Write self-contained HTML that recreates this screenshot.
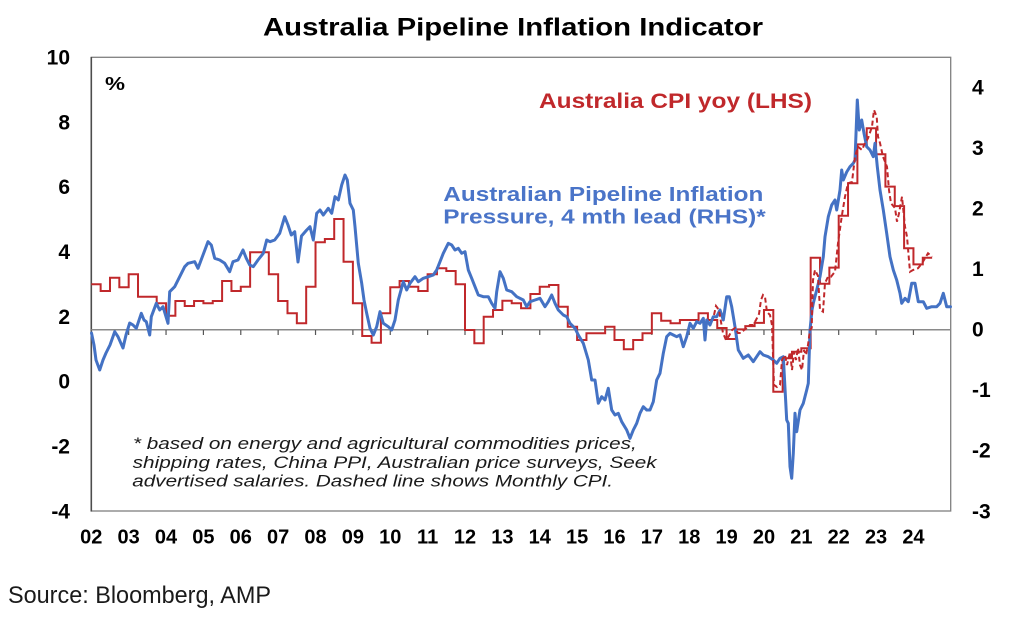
<!DOCTYPE html>
<html>
<head>
<meta charset="utf-8">
<style>
  html, body { margin: 0; padding: 0; background: #ffffff; }
  svg { display: block; }
  text { font-family: "Liberation Sans", Arial, sans-serif; }
</style>
</head>
<body>
<svg width="1018" height="624" viewBox="0 0 1018 624" xmlns="http://www.w3.org/2000/svg">
  <rect x="0" y="0" width="1018" height="624" fill="#ffffff"/>

  <!-- Title -->
  <text x="263" y="35.5" font-size="25" font-weight="bold" fill="#000" textLength="500" lengthAdjust="spacingAndGlyphs">Australia Pipeline Inflation Indicator</text>

  <!-- Plot frame -->
  <rect x="91.3" y="57.3" width="859.4" height="453.7" fill="none" stroke="#808080" stroke-width="1.3"/>
  <line x1="91.3" y1="57" x2="91.3" y2="511.5" stroke="#4d4d4d" stroke-width="1.6"/>

  <!-- Zero line (RHS 0) and year ticks -->
  <line x1="91.3" y1="329.7" x2="950.7" y2="329.7" stroke="#8a8a8a" stroke-width="1.5"/>
  <g stroke="#555" stroke-width="1.2">
    <line x1="128.67" y1="330" x2="128.67" y2="335"/>
    <line x1="166.04" y1="330" x2="166.04" y2="335"/>
    <line x1="203.41" y1="330" x2="203.41" y2="335"/>
    <line x1="240.78" y1="330" x2="240.78" y2="335"/>
    <line x1="278.15" y1="330" x2="278.15" y2="335"/>
    <line x1="315.52" y1="330" x2="315.52" y2="335"/>
    <line x1="352.89" y1="330" x2="352.89" y2="335"/>
    <line x1="390.26" y1="330" x2="390.26" y2="335"/>
    <line x1="427.63" y1="330" x2="427.63" y2="335"/>
    <line x1="465.00" y1="330" x2="465.00" y2="335"/>
    <line x1="502.37" y1="330" x2="502.37" y2="335"/>
    <line x1="539.74" y1="330" x2="539.74" y2="335"/>
    <line x1="577.11" y1="330" x2="577.11" y2="335"/>
    <line x1="614.48" y1="330" x2="614.48" y2="335"/>
    <line x1="651.85" y1="330" x2="651.85" y2="335"/>
    <line x1="689.22" y1="330" x2="689.22" y2="335"/>
    <line x1="726.59" y1="330" x2="726.59" y2="335"/>
    <line x1="763.96" y1="330" x2="763.96" y2="335"/>
    <line x1="801.33" y1="330" x2="801.33" y2="335"/>
    <line x1="838.70" y1="330" x2="838.70" y2="335"/>
    <line x1="876.07" y1="330" x2="876.07" y2="335"/>
    <line x1="913.44" y1="330" x2="913.44" y2="335"/>
  </g>

  <!-- Left axis labels -->
  <g font-size="21" font-weight="bold" fill="#000" text-anchor="end">
    <text x="70" y="64.5">10</text>
    <text x="70" y="129.3">8</text>
    <text x="70" y="194.2">6</text>
    <text x="70" y="259">4</text>
    <text x="70" y="323.9">2</text>
    <text x="70" y="388.7">0</text>
    <text x="70" y="453.6">-2</text>
    <text x="70" y="518.5">-4</text>
  </g>

  <!-- Right axis labels -->
  <g font-size="21" font-weight="bold" fill="#000">
    <text x="972" y="94.6">4</text>
    <text x="972" y="155.1">3</text>
    <text x="972" y="215.6">2</text>
    <text x="972" y="276.2">1</text>
    <text x="972" y="336.7">0</text>
    <text x="972" y="397.2">-1</text>
    <text x="972" y="457.7">-2</text>
    <text x="972" y="518.3">-3</text>
  </g>

  <!-- X axis labels -->
  <g font-size="20" font-weight="bold" fill="#000" text-anchor="middle">
    <text x="91.3" y="543.3">02</text>
    <text x="128.67" y="543.3">03</text>
    <text x="166.04" y="543.3">04</text>
    <text x="203.41" y="543.3">05</text>
    <text x="240.78" y="543.3">06</text>
    <text x="278.15" y="543.3">07</text>
    <text x="315.52" y="543.3">08</text>
    <text x="352.89" y="543.3">09</text>
    <text x="390.26" y="543.3">10</text>
    <text x="427.63" y="543.3">11</text>
    <text x="465.00" y="543.3">12</text>
    <text x="502.37" y="543.3">13</text>
    <text x="539.74" y="543.3">14</text>
    <text x="577.11" y="543.3">15</text>
    <text x="614.48" y="543.3">16</text>
    <text x="651.85" y="543.3">17</text>
    <text x="689.22" y="543.3">18</text>
    <text x="726.59" y="543.3">19</text>
    <text x="763.96" y="543.3">20</text>
    <text x="801.33" y="543.3">21</text>
    <text x="838.70" y="543.3">22</text>
    <text x="876.07" y="543.3">23</text>
    <text x="913.44" y="543.3">24</text>
  </g>

  <!-- % label -->
  <text x="105" y="90" font-size="18" font-weight="bold" fill="#000" textLength="20" lengthAdjust="spacingAndGlyphs">%</text>

  <!-- Series: CPI quarterly (solid red step) -->
  <path fill="none" stroke="#C0282B" stroke-width="2" stroke-linejoin="miter"
    d="M91.3 284.3 H100.64 V291 H109.99 V277.7 H119.33 V287.3 H128.67 V274.3 H138.01 V296.7 H156.70 V303.3 H166.04 V315.7 H175.38 V301 H184.73 V306 H194.07 V301 H203.41 V303.3 H212.75 V301 H222.10 V281 H231.44 V291 H240.78 V286.7 H250.12 V252.3 H268.81 V274.3 H278.15 V301 H287.49 V313.3 H296.84 V323.3 H306.18 V286.7 H315.52 V242.3 H324.86 V239 H334.21 V219 H343.55 V261.7 H352.89 V303.3 H362.23 V336 H371.58 V342.7 H380.92 V313.3 H390.26 V287.3 H399.60 V281 H408.95 V286.7 H418.29 V291 H427.63 V274.3 H436.97 V268.3 H446.32 V271 H455.66 V284.3 H465.00 V330 H474.34 V343.3 H483.69 V316.7 H493.03 V310 H502.37 V300.7 H511.71 V303.3 H521.06 V308.3 H530.40 V294 H539.74 V286.7 H549.08 V285 H558.43 V306.7 H567.77 V326.7 H577.11 V340 H586.45 V333.3 H605.14 V326.7 H614.48 V340 H623.82 V349.3 H633.17 V340 H642.51 V333.3 H651.85 V313.3 H661.19 V320.7 H670.54 V323.3 H679.88 V320 H698.56 V313.3 H707.91 V320 H717.25 V328 H726.59 V339 H735.93 V329.4 H745.28 V326.1 H754.62 V322.9 H763.96 V310 H773.30 V391.7 H782.65 V358.3 H791.99 V351.7 H801.33 V348.3 H810.67 V257.8 H820.02 V283.8 H829.36 V267.6 H838.70 V215.7 H848.04 V183.3 H857.39 V144.4 H866.73 V128.2 H876.07 V154.2 H885.41 V186.6 H894.76 V206.1 H904.10 V248.2 H913.44 V264.4 H922.78 V257.8 H932.13"/>

  <!-- Series: Pipeline pressure (blue) -->
  <polyline fill="none" stroke="#4472C4" stroke-width="3" stroke-linejoin="round" stroke-linecap="round"
    points="91.5,333 94,345 96,360 99.7,370 103,360 106,353 110,345 114.7,331.7 118,336.7 123,348 126,335 129.7,323 133,325 136.3,328.3 141.3,313.3 144,320 146.3,321.7 149.7,335 151.3,316.7 156.3,303.3 159.7,310 163,306.7 168,323.3 169.7,291.7 174.7,286.7 179.7,276.7 184.7,266.7 188,263.3 194.7,261.7 198,268.3 203,255 208,241.7 211.3,245 214.7,258.3 219.7,260 224.7,263.3 229.7,271.7 233,261.7 238,260 243,250 246.3,258.3 249.7,265 253.3,266.7 258,260 263.3,253.3 266.7,240 270,241.7 274.7,240 279.7,233.3 284.7,216.7 288,225 291.3,235 294.7,231.7 298,262 301.5,236 306.7,230 310,226.7 313.3,240 316.7,213.3 320,210 323.3,215 328.3,208.3 331.7,213.3 335,196.7 338.3,200 341.7,185 345,175 347.3,180 350,203.3 353.3,210 355,226.7 358.3,263.3 361.7,283.3 364,300 366.7,313.3 370,328.3 373.3,335 376.7,326.7 380,311.7 383.3,323.3 388.3,326.7 391.7,330 395,320 398.3,300 403.3,281.7 406.7,290 410,283.3 415,276.7 418.3,281.7 423.3,278.3 428.3,276.7 433.3,275 436.7,270 440,261.7 443.3,253.3 448.3,243.3 451.7,245 455,250 458.3,248.3 461.7,253.3 465,251.7 468.3,270 471.7,278.3 475,286.7 478.3,295 483.3,296.7 488.3,296.7 491.7,303.3 495,308.3 496.7,291.7 500,271.7 503.3,278.3 506.7,290 511.7,291.7 516.7,296.7 523.3,300 526.7,306.7 530,301.7 535,300 540,298.3 545,306.7 548.3,301.7 551.7,295 555,303.3 558.3,310 563.3,315 566.7,316.7 570,323.3 575,328.3 578.3,335 583.3,343.3 588.3,360 591.7,380 595,380 598.3,403.3 601.7,396.7 605,400 608.3,388.3 611.7,410 615,415 618.3,413.3 621.7,421.7 626.7,430 630,438.3 633.3,430 636.7,423.3 640,413.3 643.3,406.7 646.7,410 650,410 653.3,401.7 656.7,380 660,373.3 663.3,353.3 666.7,336.7 670,333.3 673.3,335 676.7,336.7 680,335 683.3,346.7 686.7,336.7 690,323.3 693.3,328.3 696.7,321.7 700,323.3 703.3,318.3 705,340 706.7,320 710,325 713.3,316.7 716.7,316.7 720,310 723.3,320 726.7,296.7 729.3,296.7 731.7,306.7 735,326.7 738.3,350 743.3,358.3 748.3,355 753.3,361.7 760,351.7 763.3,355 768.3,356.7 773.3,360 776.7,363.3 780,358.3 783.3,356.7 786.7,420 788.3,423.3 790,466.7 791.7,478.3 793.3,453.3 795,413.3 796.7,431.7 800,410 803.3,403.3 806.7,390 808.3,383.3 810,330 812,310 813.3,303.3 816.7,290 820,276.7 823.3,256.7 825,236.7 828.3,216.7 831.7,205 835,200 836.7,210 840,190 841.7,170 843.3,180 846.7,172 850,166.7 853.3,163.3 855,160 857.3,100 859.3,130 861.7,120 864,133.3 866.7,146.7 870,150 873.3,156.7 875,143.3 877.3,166.7 880,190 883.3,210 886.7,233.3 890,256.7 893.3,270 896.7,280 900,293.3 901.7,303.3 905,298.3 908.3,301.7 911.7,283.3 915,283.3 918.3,301.7 923.3,301.7 926.7,308.3 931.7,306.7 936.7,306.7 940,303.3 943.3,293.3 946.7,306.7 950.5,306.7"/>

  <!-- Series: Monthly CPI (dashed red) -->
  <polyline fill="none" stroke="#C0282B" stroke-width="2" stroke-dasharray="5 3"
    points="714,315 716,306 719,310 721,322 723,333 726,340 729,336 732,330 735,328 738,333 741,333 744,330 747,328 750,325 753,325 756,320 759,314 761,300 763,295 765,297 767,312 770,315 772,325 774,385 777,387 780,385 782,360 785,355 787,365 790,352 792,370 794,352 796,360 798,348 800,365 802,370 804,350 806,355 808,345 810,330 811.7,328 813,280 815,270 818,276 820,310 823,311.7 825,283 828,276.7 831,276.7 835,271.7 838,243.3 841.7,216.7 845,196.7 848,183.3 852,182 855,156.7 858,146.7 862,150 865,143 868,138.3 872,126.7 874,110 876.7,116.7 878,136.7 880,143 883,156.7 887,166.7 889,190 891,203.3 895,208 897,221.7 899,213.3 902,196.7 905,226.7 907,236.7 910,271.7 913,270 918,268.3 922,263.3 925,258.3 928,253.3 932,256.7"/>

  <!-- Series labels -->
  <text x="539" y="108" font-size="21" font-weight="bold" fill="#C0282B" textLength="273" lengthAdjust="spacingAndGlyphs">Australia CPI yoy (LHS)</text>
  <text x="443.3" y="201" font-size="20" font-weight="bold" fill="#4A74C8" textLength="320" lengthAdjust="spacingAndGlyphs">Australian Pipeline Inflation</text>
  <text x="443.3" y="223.3" font-size="20" font-weight="bold" fill="#4A74C8" textLength="322.4" lengthAdjust="spacingAndGlyphs">Pressure, 4 mth lead (RHS)*</text>

  <!-- Footnote -->
  <g font-size="17" font-style="italic" fill="#1a1a1a">
    <text x="133" y="449" textLength="503.7" lengthAdjust="spacingAndGlyphs">* based on energy and agricultural commodities prices,</text>
    <text x="132.7" y="467.8" textLength="524" lengthAdjust="spacingAndGlyphs">shipping rates, China PPI, Australian price surveys, Seek</text>
    <text x="132.3" y="486.5" textLength="480.7" lengthAdjust="spacingAndGlyphs">advertised salaries. Dashed line shows Monthly CPI.</text>
  </g>

  <!-- Source -->
  <text x="8" y="603" font-size="24" fill="#1a1a1a" textLength="263" lengthAdjust="spacingAndGlyphs">Source: Bloomberg, AMP</text>
</svg>
</body>
</html>
